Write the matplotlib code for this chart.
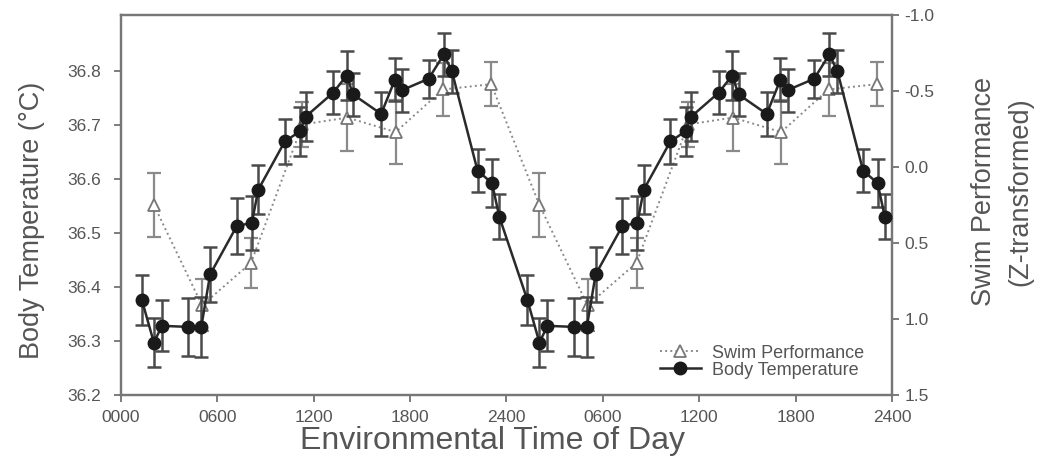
import numpy as np
import matplotlib
matplotlib.use("Agg")
import matplotlib.pyplot as plt

plt.rcParams['font.family'] = ['Liberation Sans', 'DejaVu Sans']

# one day of data, plotted twice (double-plotted 48 h axis)
bt_hours = [1.3, 2.05, 2.55, 4.2, 5.0, 5.55, 7.2, 8.15, 8.55, 10.2, 11.15, 11.5,
            13.2, 14.05, 14.45, 16.2, 17.05, 17.5, 19.15, 20.1, 20.6, 22.2, 23.1, 23.55]
bt_temp = [36.376, 36.297, 36.328, 36.326, 36.326, 36.423, 36.512, 36.519, 36.580,
           36.669, 36.688, 36.715, 36.759, 36.791, 36.756, 36.720, 36.783, 36.764,
           36.785, 36.830, 36.799, 36.615, 36.592, 36.530]
bt_err = [0.046, 0.045, 0.047, 0.053, 0.055, 0.050, 0.052, 0.050, 0.045, 0.042,
          0.045, 0.045, 0.040, 0.045, 0.040, 0.040, 0.040, 0.040, 0.035, 0.040,
          0.040, 0.040, 0.045, 0.042]

swim_hours = [2.05, 5.05, 8.1, 11.3, 14.1, 17.1, 20.05, 23.05]
swim_z = [0.25, 0.91, 0.63, -0.28, -0.325, -0.23, -0.51, -0.545]
swim_err = [0.21, 0.17, 0.165, 0.15, 0.22, 0.21, 0.175, 0.146]

xtick_labels = ['0000', '0600', '1200', '1800', '2400', '0600', '1200', '1800', '2400']

bh = np.concatenate([bt_hours, np.array(bt_hours) + 24])
bt = np.concatenate([bt_temp, bt_temp])
be = np.concatenate([bt_err, bt_err])
sh = np.concatenate([swim_hours, np.array(swim_hours) + 24])
sz = np.concatenate([swim_z, swim_z])
se = np.concatenate([swim_err, swim_err])

fig = plt.figure(figsize=(10.4, 4.59), dpi=100)
ax = fig.add_axes([0.1163, 0.1394, 0.7414, 0.8279])
ax2 = ax.twinx()

spine_col = '#777777'
tick_col = '#666666'
text_col = '#555555'

# swim performance on the right axis (inverted)
ax2.errorbar(sh, sz, yerr=se, fmt='none', ecolor='#8a8a8a', elinewidth=1.6,
             capsize=5, capthick=1.6, zorder=2)
sw_line, = ax2.plot(sh, sz, linestyle=':', color='#8a8a8a', linewidth=1.4,
                    marker='^', markersize=8.5, markerfacecolor='white',
                    markeredgecolor='#777777', markeredgewidth=1.3, zorder=3)
ax2.set_ylim(1.5, -1.0)

ax.set_zorder(ax2.get_zorder() + 1)
ax.patch.set_visible(False)
ax.errorbar(bh, bt, yerr=be, fmt='none', ecolor='#4a4a4a', elinewidth=1.8,
            capsize=5, capthick=1.8, zorder=2)
bt_line, = ax.plot(bh, bt, linestyle='-', color='#2a2a2a', linewidth=1.8,
                   marker='o', markersize=9, markerfacecolor='#1a1a1a',
                   markeredgecolor='#1a1a1a', zorder=3)

ax.set_xlim(0, 48)
ax.set_ylim(36.2, 36.903)
ax.set_xticks(np.arange(0, 49, 6))
ax.set_xticklabels(xtick_labels)
ax.set_yticks([36.2, 36.3, 36.4, 36.5, 36.6, 36.7, 36.8])
ax2.set_yticks([-1.0, -0.5, 0.0, 0.5, 1.0, 1.5])
ax2.set_yticklabels(['-1.0', '-0.5', '0.0', '0.5', '1.0', '1.5'])

for a in (ax, ax2):
    for s in a.spines.values():
        s.set_color(spine_col)
        s.set_linewidth(1.6)
    a.tick_params(direction='out', length=5, width=1.2, colors=tick_col,
                  labelsize=12.5, labelcolor=text_col)
ax.tick_params(axis='y', pad=9)
ax.tick_params(axis='x', pad=6)
ax2.tick_params(axis='y', pad=4)

ax.set_ylabel('Body Temperature (°C)', fontsize=19.5, color=text_col)
ax.yaxis.set_label_coords(-0.098, 0.46)
ax.set_xlabel('Environmental Time of Day', fontsize=23, color=text_col)
ax.xaxis.set_label_coords(0.4825, -0.082)
ax2.set_ylabel('Swim Performance\n(Z-transformed)', fontsize=19.5, color=text_col,
               linespacing=1.5)
ax2.yaxis.set_label_coords(1.103, 0.535)

leg = ax.legend([sw_line, bt_line], ['Swim Performance', 'Body Temperature'],
                loc='lower right', bbox_to_anchor=(0.985, 0.0), frameon=False,
                fontsize=13, handlelength=2.3, handletextpad=0.6,
                labelspacing=0.0, labelcolor=text_col)

fig.savefig('out.png', dpi=100)
